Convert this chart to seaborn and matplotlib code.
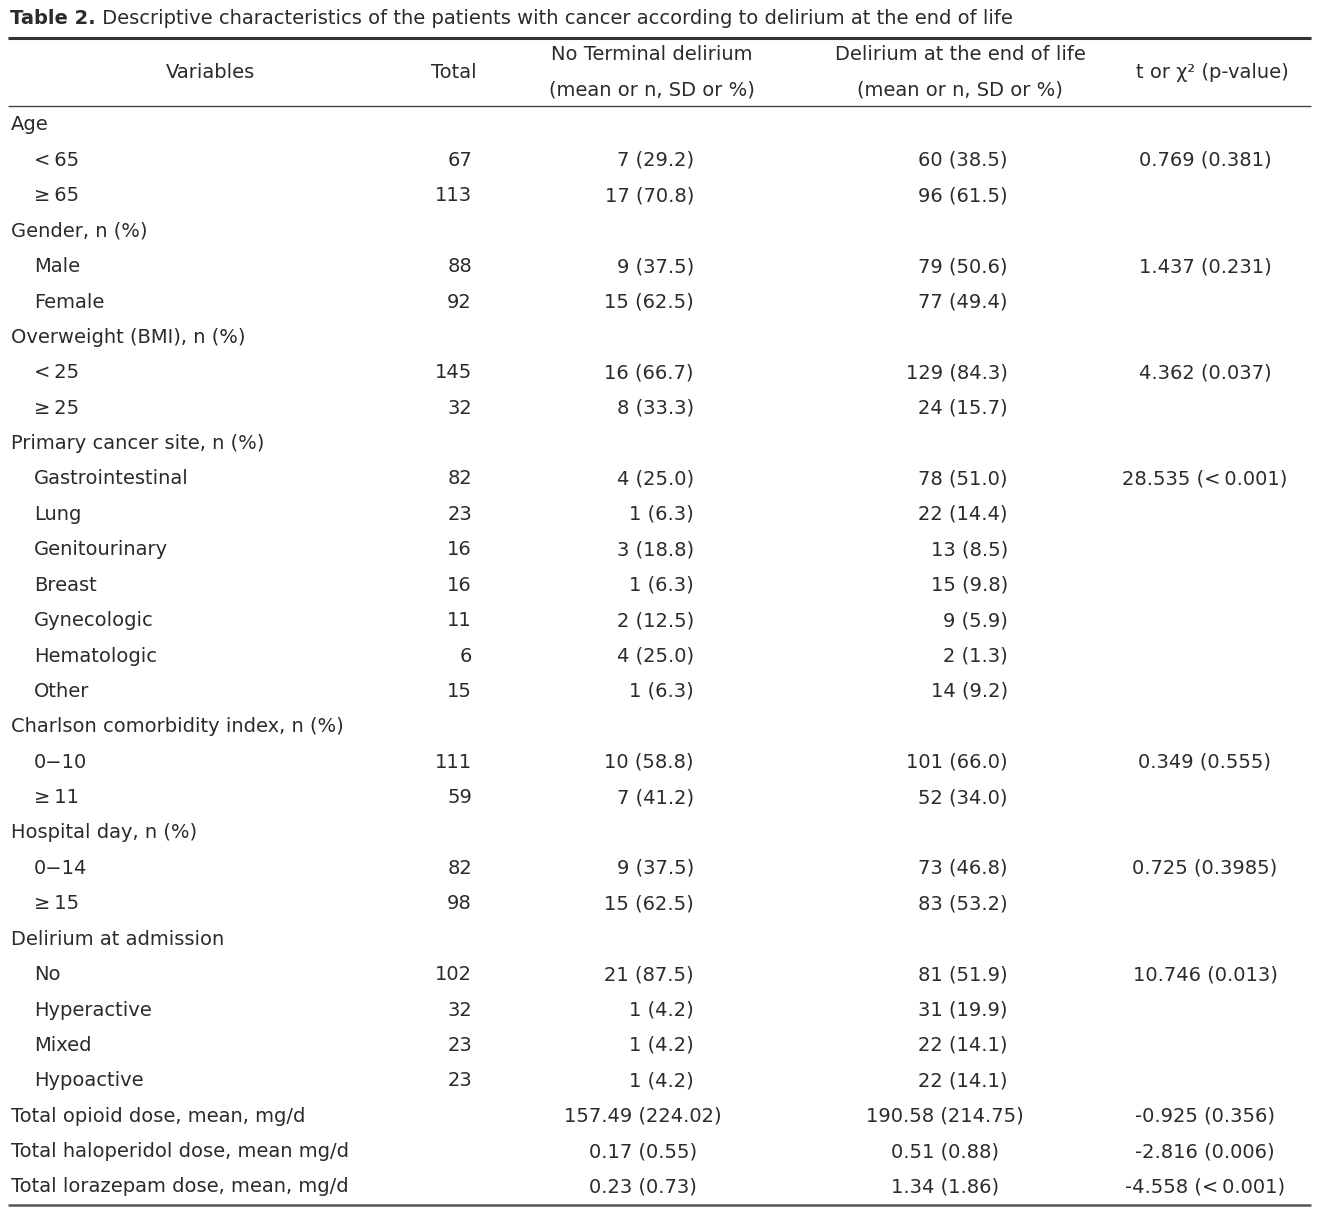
import matplotlib
matplotlib.use("Agg")
import matplotlib.pyplot as plt
import seaborn as sns

sns.set_theme(style="white")
plt.rcParams['font.family'] = ['DejaVu Sans']

# ---- data ----
title_bold = "Table 2."
title_rest = " Descriptive characteristics of the patients with cancer according to delirium at the end of life"
headers = ["Variables", "Total", "No Terminal delirium\n(mean or n, SD or %)",
           "Delirium at the end of life\n(mean or n, SD or %)", "t or χ² (p-value)"]

variables = ["Age", "<\u200965", "≥\u200965", "Gender, n (%)", "Male", "Female",
             "Overweight (BMI), n (%)", "<\u200925", "≥\u200925", "Primary cancer site, n (%)",
             "Gastrointestinal", "Lung", "Genitourinary", "Breast", "Gynecologic",
             "Hematologic", "Other", "Charlson comorbidity index, n (%)", "0−10", "≥\u200911",
             "Hospital day, n (%)", "0−14", "≥\u200915", "Delirium at admission", "No",
             "Hyperactive", "Mixed", "Hypoactive", "Total opioid dose, mean, mg/d",
             "Total haloperidol dose, mean mg/d", "Total lorazepam dose, mean, mg/d"]
indent = [0, 1, 1, 0, 1, 1, 0, 1, 1, 0, 1, 1, 1, 1, 1, 1, 1, 0, 1, 1, 0, 1, 1, 0, 1, 1, 1, 1, 0, 0, 0]
totals = ["", "67", "113", "", "88", "92", "", "145", "32", "", "82", "23", "16", "16", "11",
          "6", "15", "", "111", "59", "", "82", "98", "", "102", "32", "23", "23", "", "", ""]
no_delirium = ["", "7 (29.2)", "17 (70.8)", "", "9 (37.5)", "15 (62.5)", "", "16 (66.7)",
               "8 (33.3)", "", "4 (25.0)", "1 (6.3)", "3 (18.8)", "1 (6.3)", "2 (12.5)",
               "4 (25.0)", "1 (6.3)", "", "10 (58.8)", "7 (41.2)", "", "9 (37.5)", "15 (62.5)",
               "", "21 (87.5)", "1 (4.2)", "1 (4.2)", "1 (4.2)", "157.49 (224.02)",
               "0.17 (0.55)", "0.23 (0.73)"]
delirium = ["", "60 (38.5)", "96 (61.5)", "", "79 (50.6)", "77 (49.4)", "", "129 (84.3)",
            "24 (15.7)", "", "78 (51.0)", "22 (14.4)", "13 (8.5)", "15 (9.8)", "9 (5.9)",
            "2 (1.3)", "14 (9.2)", "", "101 (66.0)", "52 (34.0)", "", "73 (46.8)", "83 (53.2)",
            "", "81 (51.9)", "31 (19.9)", "22 (14.1)", "22 (14.1)", "190.58 (214.75)",
            "0.51 (0.88)", "1.34 (1.86)"]
pvalues = ["", "0.769 (0.381)", "", "", "1.437 (0.231)", "", "", "4.362 (0.037)", "", "",
           "28.535 (<\u20090.001)", "", "", "", "", "", "", "", "0.349 (0.555)", "", "",
           "0.725 (0.3985)", "", "", "10.746 (0.013)", "", "", "", "-0.925 (0.356)",
           "-2.816 (0.006)", "-4.558 (<\u20090.001)"]
is_dose = [False] * 28 + [True, True, True]

W, H = 1330, 1208
fig = plt.figure(figsize=(W / 100, H / 100), dpi=100)
ax = fig.add_axes([0, 0, 1, 1])
ax.set_xlim(0, W)
ax.set_ylim(H, 0)
ax.axis("off")

tc = "#2b2b2b"
fs = 14.0

# title
t1 = ax.text(10, 19, title_bold, fontsize=fs, fontweight="bold", color=tc, va="center", ha="left")
fig.canvas.draw()
bb = t1.get_window_extent()
x_end = ax.transData.inverted().transform((bb.x1, bb.y0))[0]
ax.text(x_end, 19, title_rest, fontsize=fs, color=tc, va="center", ha="left")

# rules
ax.hlines(38, 8, 1311, color="#333333", lw=2.2)
ax.hlines(106, 8, 1311, color="#444444", lw=1.0)
ax.hlines(1205, 8, 1311, color="#555555", lw=1.8)

# headers
ax.text(210, 72, headers[0], fontsize=fs, color=tc, ha="center", va="center")
ax.text(454, 72, headers[1], fontsize=fs, color=tc, ha="center", va="center")
for cx, h in [(652, headers[2]), (960, headers[3])]:
    l1, l2 = h.split("\n")
    ax.text(cx, 55, l1, fontsize=fs, color=tc, ha="center", va="center")
    ax.text(cx, 90, l2, fontsize=fs, color=tc, ha="center", va="center")
ax.text(1212, 72, headers[4], fontsize=fs, color=tc, ha="center", va="center")

# body
y0, dy = 125, 35.4
for i, var in enumerate(variables):
    y = y0 + i * dy
    ax.text(11 + 23 * indent[i], y, var, fontsize=fs, color=tc, ha="left", va="center")
    if totals[i]:
        ax.text(472, y, totals[i], fontsize=fs, color=tc, ha="right", va="center")
    if is_dose[i]:
        ax.text(643, y, no_delirium[i], fontsize=fs, color=tc, ha="center", va="center")
        ax.text(945, y, delirium[i], fontsize=fs, color=tc, ha="center", va="center")
    else:
        if no_delirium[i]:
            ax.text(694, y, no_delirium[i], fontsize=fs, color=tc, ha="right", va="center")
        if delirium[i]:
            ax.text(1008, y, delirium[i], fontsize=fs, color=tc, ha="right", va="center")
    if pvalues[i]:
        ax.text(1205, y, pvalues[i], fontsize=fs, color=tc, ha="center", va="center")

fig.savefig("out.png", dpi=100)
